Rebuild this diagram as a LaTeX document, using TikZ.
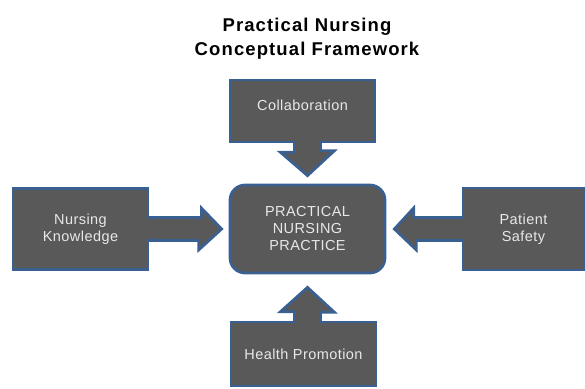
\documentclass[tikz,border=0pt]{standalone}
\usepackage{fontspec}
\setmainfont{Liberation Sans}[LetterSpace=3]
\newfontfamily\titlefont{Liberation Sans}[LetterSpace=6]
\usetikzlibrary{calc}
\definecolor{boxgray}{RGB}{89,89,89}
\definecolor{boxblue}{RGB}{58,96,145}
\definecolor{boxtext}{RGB}{232,232,232}
\tikzstyle{block}=[draw=boxblue,line width=2.7pt,fill=boxgray,text=boxtext,font=\fontsize{14.5}{17}\selectfont,align=center,inner sep=0pt]
\tikzstyle{hub}=[block,rounded corners=15pt]
\tikzstyle{fatarrow}=[draw=boxblue,line width=2.7pt,fill=boxgray,line join=miter]

\begin{document}
\begin{tikzpicture}[x=1pt,y=1pt]
    \useasboundingbox (0,0) rectangle (585,388);
    % Title on top
    \node[font=\titlefont\bfseries\fontsize{18.5}{24}\selectfont,align=center] (title) at (307,349) {Practical Nursing\\Conceptual Framework};
    % The four outer boxes
    \foreach \pos/\name/\txt/\bw/\bh in {{(302.5,277)/coll/\raisebox{6pt}[\height][\depth]{Collaboration}/145/62}, {(80.5,159)/know/{Nursing\\Knowledge}/135/81}, {(523.5,159)/safe/{Patient\\Safety}/121/82}, {(303.5,34)/heal/Health Promotion/145/64}}
        \node[block,minimum width=\bw pt,minimum height=\bh pt] (\name) at \pos {\txt};
    % The centre box
    \node[hub,minimum width=155pt,minimum height=88pt] (prac) at (307.5,159) {PRACTICAL\\NURSING\\PRACTICE};
    % Tips of the block arrows
    \coordinate (tipN) at ($(prac.north)+(0,8)$);
    \coordinate (tipS) at ($(prac.south)+(0,-13)$);
    \coordinate (tipW) at ($(prac.west)+(-7,0)$);
    \coordinate (tipE) at ($(prac.east)+(8,0)$);
    % Block arrows into the centre box
    \draw[fatarrow] ($(coll.south -| tipN)+(-13,2.5)$) -- ++(0,-11.5) -- ++(-14,0) -- (tipN) -- ++(27,25) -- ++(-14,0) -- ($(coll.south -| tipN)+(13,2.5)$);
    \draw[fatarrow] ($(heal.north -| tipS)+(-13,-2.5)$) -- ++(0,11.5) -- ++(-14,0) -- (tipS) -- ++(27,-25) -- ++(-14,0) -- ($(heal.north -| tipS)+(13,-2.5)$);
    \draw[fatarrow] ($(know.east |- tipW)+(-2.5,11.5)$) -- ++(54.5,0) -- ++(0,9.5) -- (tipW) -- ++(-23,-21) -- ++(0,9.5) -- ($(know.east |- tipW)+(-2.5,-11.5)$);
    \draw[fatarrow] ($(safe.west |- tipE)+(2.5,11.5)$) -- ++(-50.5,0) -- ++(0,9.5) -- (tipE) -- ++(22,-21) -- ++(0,9.5) -- ($(safe.west |- tipE)+(2.5,-11.5)$);
\end{tikzpicture}
\end{document}
